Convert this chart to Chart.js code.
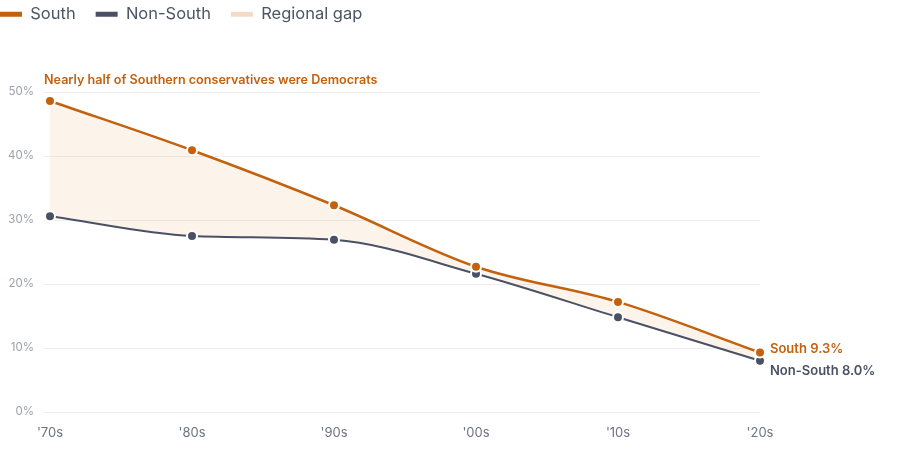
<!DOCTYPE html>
<html>
<head>
<meta charset="utf-8">
<script src="https://cdn.jsdelivr.net/npm/chart.js@4"></script>
<style>
  html, body { margin: 0; padding: 0; background: #fff; }
  #wrap { position: relative; width: 900px; height: 450px; overflow: hidden; }
  #c { position: absolute; left: -20px; top: -14px; }
</style>
</head>
<body>
<div id="wrap"><canvas id="c" width="920" height="464"></canvas></div>
<script>
// данные
const decades = ["'70s", "'80s", "'90s", "'00s", "'10s", "'20s"];
const southShare = [48.6, 40.9, 32.3, 22.7, 17.2, 9.3];
const nonSouthShare = [30.6, 27.5, 26.9, 21.6, 14.8, 8.0];
const yTicks = [0, 10, 20, 30, 40, 50];

const ORANGE = '#c2620f';
const SLATE = '#4a5164';
const GAP_FILL = 'rgba(230, 150, 70, 0.11)';
const GAP_LEGEND = '#f3dcc7';
const FONT = 'Inter, "Noto Sans", sans-serif';

// надписи поверх графика
const labelsPlugin = {
  id: 'labels',
  afterInit(chart) {
    const fit = chart.legend.fit;
    chart.legend.fit = function() {
      fit.call(this);
      this.height = 106;
    };
  },
  afterDatasetsDraw(chart) {
    const { ctx, chartArea, scales } = chart;
    const x = scales.x, y = scales.y;
    ctx.save();
    ctx.textBaseline = 'middle';
    ctx.textAlign = 'left';

    ctx.font = '600 12.6px ' + FONT;
    ctx.fillStyle = ORANGE;
    ctx.fillText('Nearly half of Southern conservatives were Democrats', chartArea.left - 6, y.getPixelForValue(50) - 12);

    ctx.font = '600 13px ' + FONT;
    const last = decades.length - 1;
    const px = x.getPixelForValue(last) + 10;
    const yS = y.getPixelForValue(southShare[last]) - 3.5;
    const yN = Math.max(y.getPixelForValue(nonSouthShare[last]), yS + 22);
    ctx.fillText('South ' + southShare[last].toFixed(1) + '%', px, yS);
    ctx.fillStyle = SLATE;
    ctx.fillText('Non-South ' + nonSouthShare[last].toFixed(1) + '%', px, yN);
    ctx.restore();
  }
};

const legendColors = [ORANGE, SLATE, GAP_LEGEND];

new Chart(document.getElementById('c'), {
  type: 'line',
  data: {
    labels: decades,
    datasets: [
      {
        label: 'South',
        data: southShare,
        borderColor: ORANGE,
        backgroundColor: ORANGE,
        borderWidth: 2.5,
        pointRadius: 5,
        pointBorderWidth: 2,
        pointBorderColor: '#fff',
        pointBackgroundColor: ORANGE,
        cubicInterpolationMode: 'monotone',
        fill: false
      },
      {
        label: 'Non-South',
        data: nonSouthShare,
        borderColor: SLATE,
        backgroundColor: SLATE,
        borderWidth: 2,
        pointRadius: 5,
        pointBorderWidth: 2,
        pointBorderColor: '#fff',
        pointBackgroundColor: SLATE,
        cubicInterpolationMode: 'monotone',
        fill: false
      },
      {
        label: 'Regional gap',
        data: southShare,
        borderWidth: 0,
        borderColor: 'rgba(0,0,0,0)',
        backgroundColor: GAP_FILL,
        pointRadius: 0,
        cubicInterpolationMode: 'monotone',
        fill: 1
      }
    ]
  },
  options: {
    responsive: false,
    devicePixelRatio: 1,
    animation: false,
    events: [],
    layout: { padding: { left: 0, right: 140, top: 0, bottom: 0 } },
    plugins: {
      tooltip: { enabled: false },
      legend: {
        position: 'top',
        align: 'start',
        labels: {
          color: '#4b5563',
          font: { family: FONT, size: 16.5 },
          boxWidth: 22,
          boxHeight: 5,
          useBorderRadius: true,
          borderRadius: 2.5,
          padding: 20,
          generateLabels(chart) {
            return chart.data.datasets.map((ds, i) => ({
              text: ds.label,
              fillStyle: legendColors[i],
              strokeStyle: legendColors[i],
              lineWidth: 0,
              hidden: false,
              datasetIndex: i,
              fontColor: '#4b5563'
            }));
          }
        }
      }
    },
    scales: {
      x: {
        grid: { display: false, drawTicks: false },
        border: { display: false },
        ticks: {
          color: '#6b7280',
          font: { family: FONT, size: 13 },
          padding: 13,
          maxRotation: 0
        },
        afterFit(scale) { scale.height = 38; }
      },
      y: {
        min: 0,
        max: 50,
        afterBuildTicks(scale) {
          scale.ticks = yTicks.map(v => ({ value: v }));
        },
        grid: { color: '#eceef1', tickLength: 6, lineWidth: 1 },
        border: { display: false },
        ticks: {
          color: '#9ca3af',
          font: { family: FONT, size: 11.5 },
          padding: 10,
          callback: v => v + '%'
        },
        afterFit(scale) { scale.width = 70; }
      }
    }
  },
  plugins: [labelsPlugin]
});
</script>
</body>
</html>
